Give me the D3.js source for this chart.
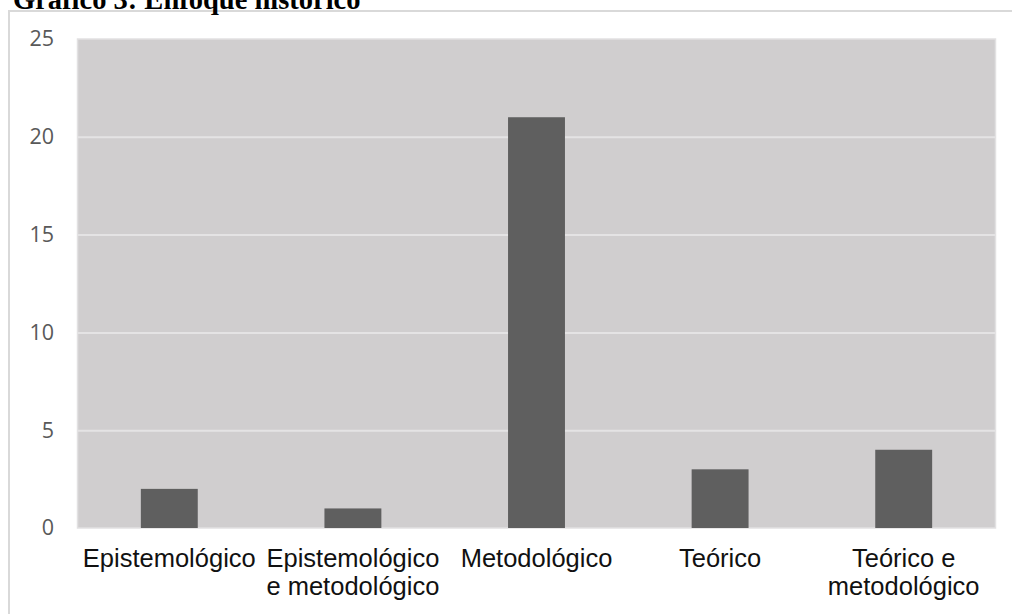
<!DOCTYPE html>
<html>
<head>
<meta charset="utf-8">
<script src="https://cdn.jsdelivr.net/npm/d3@7"></script>
<style>
  html, body { margin: 0; padding: 0; background: #ffffff; }
  svg { display: block; }
</style>
</head>
<body>
<svg id="chart" width="1012" height="614"></svg>
<script>
// Categories (each line of a wrapped label is its own string)
const categories = [
  ["Epistemológico"],
  ["Epistemológico", "e metodológico"],
  ["Metodológico"],
  ["Teórico"],
  ["Teórico e", "metodológico"]
];
const values = [2, 1, 21, 3, 4];
const yTicks = [0, 5, 10, 15, 20, 25];
const title = "Gráfico 3: Enfoque histórico";

const svg = d3.select("#chart");
const W = 1012, H = 614;
const plot = { left: 77.5, right: 995.5, top: 39, bottom: 528 };

// Figure frame
svg.append("rect")
  .attr("x", 9).attr("y", 11)
  .attr("width", W + 10).attr("height", H + 10)
  .attr("fill", "#ffffff")
  .attr("stroke", "#d9d9d9").attr("stroke-width", 2);

// Title (sits above the frame)
svg.append("text")
  .attr("x", 13).attr("y", 9)
  .attr("font-family", "'Liberation Serif', 'Times New Roman', serif")
  .attr("font-weight", "bold")
  .attr("font-size", 28.5)
  .attr("fill", "#000")
  .text(title);

const keys = categories.map(c => c.join(" "));
const x = d3.scaleBand()
  .domain(keys)
  .range([plot.left, plot.right])
  .paddingInner(0.69)
  .paddingOuter(0.345);

const y = d3.scaleLinear()
  .domain([0, 25])
  .range([plot.bottom, plot.top]);

// Plot area background
svg.append("rect")
  .attr("x", plot.left).attr("y", plot.top)
  .attr("width", plot.right - plot.left)
  .attr("height", plot.bottom - plot.top)
  .attr("fill", "#d0cecf")
  .attr("stroke", "#e2e1e2").attr("stroke-width", 1.5);

// Gridlines
const yGrid = d3.axisLeft(y)
  .tickValues(yTicks.filter(t => t > 0 && t < 25))
  .tickSize(-(plot.right - plot.left))
  .tickFormat("");
svg.append("g")
  .attr("transform", `translate(${plot.left},0)`)
  .call(yGrid)
  .call(g => g.select(".domain").remove())
  .call(g => g.selectAll("line").attr("stroke", "#e4e3e4").attr("stroke-width", 2));

// Y axis labels
const yAxis = d3.axisLeft(y).tickValues(yTicks).tickSize(0).tickPadding(0);
svg.append("g")
  .attr("transform", "translate(54,0)")
  .call(yAxis)
  .call(g => g.select(".domain").remove())
  .call(g => g.selectAll("text")
    .attr("font-family", "'Open Sans', 'Noto Sans', sans-serif")
    .attr("font-size", 21.5)
    .attr("fill", "#595959"));

// Bars
svg.append("g")
  .selectAll("rect")
  .data(values)
  .join("rect")
  .attr("x", (d, i) => x(keys[i]))
  .attr("y", d => y(d))
  .attr("width", x.bandwidth())
  .attr("height", d => y(0) - y(d))
  .attr("fill", "#5f5f5f");

// Category labels (wrapped into lines)
const labels = svg.append("g")
  .selectAll("text")
  .data(categories)
  .join("text")
  .attr("text-anchor", "middle")
  .attr("font-family", "'Liberation Sans', Arial, sans-serif")
  .attr("font-size", 25.5)
  .attr("fill", "#111");
labels.each(function(lines, i) {
  const cx = x(keys[i]) + x.bandwidth() / 2;
  d3.select(this).selectAll("tspan")
    .data(lines)
    .join("tspan")
    .attr("x", cx)
    .attr("y", (l, j) => 567 + j * 28)
    .text(l => l);
});
</script>
</body>
</html>
